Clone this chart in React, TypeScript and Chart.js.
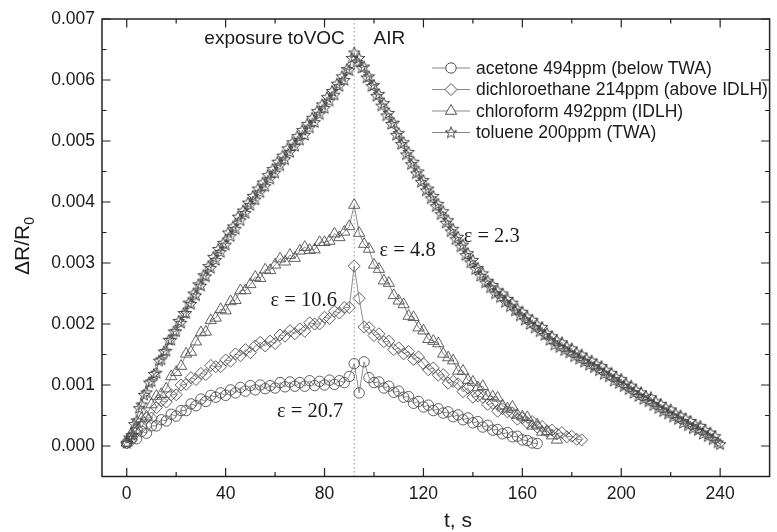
import React, { useEffect, useRef } from "react";
import { Chart, registerables } from "chart.js";

Chart.register(...registerables);

// time axes (s)
const TIME_1S = [
  0,1,2,3,4,5,6,7,8,9,10,11,12,13,14,15,16,17,18,19,20,21,22,23,24,25,26,27,28,29,
  30,31,32,33,34,35,36,37,38,39,40,41,42,43,44,45,46,47,48,49,50,51,52,53,54,55,56,57,58,59,
  60,61,62,63,64,65,66,67,68,69,70,71,72,73,74,75,76,77,78,79,80,81,82,83,84,85,86,87,88,89,
  90,91,92,93,94,95,96,97,98,99,100,101,102,103,104,105,106,107,108,109,110,111,112,113,114,115,116,117,118,119,
  120,121,122,123,124,125,126,127,128,129,130,131,132,133,134,135,136,137,138,139,140,141,142,143,144,145,146,147,148,149,
  150,151,152,153,154,155,156,157,158,159,160,161,162,163,164,165,166,167,168,169,170,171,172,173,174,175,176,177,178,179,
  180,181,182,183,184,185,186,187,188,189,190,191,192,193,194,195,196,197,198,199,200,201,202,203,204,205,206,207,208,209,
  210,211,212,213,214,215,216,217,218,219,220,221,222,223,224,225,226,227,228,229,230,231,232,233,234,235,236,237,238,239,
  240
];
const TIME_2S = [
  0,2,4,6,8,10,12,14,16,18,20,22,24,26,28,30,32,34,36,38,40,42,44,46,48,50,52,54,56,58,
  60,62,64,66,68,70,72,74,76,78,80,82,84,86,88,90,92,94,96,98,100,102,104,106,108,110,112,114,116,118,
  120,122,124,126,128,130,132,134,136,138,140,142,144,146,148,150,152,154,156,158,160,162,164,166,168,170,172,174,176,178,
  180,182,184
];

// ΔR/R0 values in units of 0.001
const ACETONE = [ // sampled on TIME_2S
  0.05,0.13,0.12,0.24,0.21,0.33,0.33,0.43,0.41,0.52,
  0.49,0.58,0.58,0.69,0.66,0.77,0.73,0.83,0.8,0.87,
  0.83,0.92,0.87,0.96,0.9,0.99,0.92,1.0,0.94,0.99,
  0.95,1.04,0.97,1.05,0.98,1.04,0.98,1.07,0.99,1.06,
  1.0,1.08,1.01,1.07,1.04,1.14,1.35,0.87,1.38,1.12,
  1.04,1.05,0.95,0.98,0.88,0.9,0.8,0.81,0.7,0.73,
  0.64,0.67,0.58,0.61,0.54,0.56,0.48,0.51,0.43,0.46,
  0.38,0.4,0.31,0.34,0.26,0.27,0.2,0.22,0.15,0.16,
  0.1,0.09,0.05,0.04
];
const DICHLOROETHANE = [ // sampled on TIME_2S
  0.05,0.1,0.28,0.31,0.46,0.46,0.63,0.74,0.72,0.84,
  0.84,1.0,1.01,1.12,1.09,1.19,1.17,1.32,1.3,1.3,
  1.41,1.39,1.51,1.48,1.58,1.53,1.64,1.7,1.64,1.72,
  1.68,1.82,1.8,1.89,1.84,1.92,1.88,2.02,2.0,2.0,
  2.11,2.09,2.21,2.18,2.27,2.27,2.95,2.42,1.95,1.94,
  1.81,1.84,1.71,1.72,1.58,1.61,1.51,1.55,1.42,1.46,
  1.35,1.25,1.28,1.16,1.17,1.03,1.06,1.02,0.89,0.95,
  0.8,0.82,0.8,0.68,0.7,0.57,0.61,0.56,0.54,0.44,
  0.46,0.38,0.4,0.31,0.32,0.24,0.26,0.2,0.22,0.15,
  0.16,0.11,0.1
];
const CHLOROFORM = [ // sampled on TIME_2S
  0.05,0.21,0.25,0.45,0.48,0.68,0.82,0.85,0.94,1.14,
  1.21,1.31,1.51,1.54,1.71,1.86,1.87,2.06,2.1,2.24,
  2.22,2.37,2.39,2.55,2.55,2.65,2.77,2.75,2.89,2.88,
  2.97,3.07,3.02,3.13,3.08,3.2,3.26,3.21,3.22,3.34,
  3.34,3.36,3.48,3.42,3.51,3.6,3.95,3.49,3.31,3.23,
  2.97,2.9,2.71,2.67,2.47,2.38,2.32,2.13,2.11,1.94,
  1.89,1.75,1.72,1.68,1.51,1.45,1.4,1.23,1.23,1.08,
  1.05,0.96,0.98,0.82,0.81,0.79,0.66,0.61,0.64,0.51,
  0.48,0.47,0.33,0.35,0.23,0.24,0.17,0.1
];
const TOLUENE = [ // sampled on TIME_1S
  0.05,0.14,0.18,0.36,0.42,0.62,0.68,0.84,0.88,1.04,
  1.06,1.18,1.2,1.4,1.42,1.55,1.56,1.74,1.74,1.88,
  1.88,2.05,2.02,2.18,2.18,2.35,2.33,2.5,2.47,2.65,
  2.63,2.8,2.78,2.95,2.92,3.1,3.05,3.23,3.18,3.33,
  3.3,3.5,3.44,3.6,3.56,3.76,3.7,3.86,3.82,3.99,
  3.95,4.1,4.04,4.22,4.16,4.32,4.26,4.44,4.38,4.54,
  4.48,4.66,4.6,4.76,4.7,4.88,4.82,4.98,4.92,5.08,
  5.02,5.18,5.1,5.28,5.22,5.38,5.31,5.49,5.44,5.6,
  5.54,5.72,5.66,5.82,5.76,5.94,5.9,6.06,6.0,6.18,
  6.16,6.36,6.45,6.3,6.36,6.2,6.22,6.04,6.06,5.9,
  5.92,5.74,5.77,5.58,5.62,5.42,5.46,5.28,5.3,5.1,
  5.13,4.95,4.98,4.78,4.82,4.62,4.66,4.47,4.5,4.33,
  4.36,4.19,4.22,4.06,4.1,3.93,3.97,3.8,3.85,3.66,
  3.7,3.52,3.56,3.39,3.43,3.27,3.3,3.13,3.16,3.01,
  3.05,2.9,2.92,2.79,2.83,2.68,2.71,2.6,2.64,2.5,
  2.55,2.44,2.5,2.36,2.41,2.29,2.35,2.22,2.25,2.14,
  2.2,2.07,2.12,2.0,2.07,1.94,1.99,1.88,1.95,1.82,
  1.85,1.74,1.8,1.66,1.73,1.62,1.7,1.57,1.63,1.53,
  1.6,1.47,1.53,1.43,1.5,1.38,1.43,1.33,1.4,1.29,
  1.34,1.24,1.31,1.18,1.24,1.14,1.2,1.07,1.13,1.03,
  1.1,0.98,1.02,0.93,0.99,0.87,0.92,0.82,0.88,0.77,
  0.82,0.73,0.8,0.67,0.73,0.62,0.69,0.57,0.63,0.53,
  0.6,0.48,0.53,0.44,0.5,0.38,0.45,0.34,0.41,0.29,
  0.35,0.26,0.33,0.2,0.26,0.16,0.22,0.11,0.16,0.06,
  0.03
];

const SERIES_LABELS = [
  "acetone 494ppm (below TWA)",
  "dichloroethane 214ppm (above IDLH)",
  "chloroform 492ppm (IDLH)",
  "toluene 200ppm (TWA)",
];
const X_TICKS = [0, 40, 80, 120, 160, 200, 240];
const Y_TICKS = [0, 1, 2, 3, 4, 5, 6, 7]; // ×0.001
const SWITCH_TIME = 92;
const EPS_LABELS = [
  { text: "ε = 10.6", t: 71.6, v: 2.39 },
  { text: "ε = 20.7", t: 74.2, v: 0.56 },
  { text: "ε = 4.8", t: 113.6, v: 3.21 },
  { text: "ε = 2.3", t: 147.6, v: 3.43 },
];
const PHASE_LABELS = [
  { text: "exposure toVOC", t: 88.2, v: 6.67, align: "right" },
  { text: "AIR", t: 99.8, v: 6.67, align: "left" },
];

const SANS = '"Liberation Sans", Arial, Helvetica, sans-serif';
const SERIF = '"Liberation Serif", "Times New Roman", serif';
const MARK = "#505050";

function makeStar(): HTMLCanvasElement {
  const c = document.createElement("canvas");
  c.width = 14;
  c.height = 14;
  const g = c.getContext("2d")!;
  g.beginPath();
  for (let i = 0; i < 10; i++) {
    const r = i % 2 === 0 ? 6 : 2.6;
    const a = -Math.PI / 2 + (i * Math.PI) / 5;
    const x = 7 + r * Math.cos(a);
    const y = 7.4 + r * Math.sin(a);
    if (i === 0) g.moveTo(x, y);
    else g.lineTo(x, y);
  }
  g.closePath();
  g.strokeStyle = "#444";
  g.lineWidth = 1;
  g.stroke();
  return c;
}

function drawMarker(ctx: CanvasRenderingContext2D, kind: string, x: number, y: number, star: HTMLCanvasElement) {
  ctx.save();
  ctx.strokeStyle = MARK;
  ctx.lineWidth = 1;
  ctx.fillStyle = "#fff";
  ctx.beginPath();
  if (kind === "circle") {
    ctx.arc(x, y, 5.2, 0, Math.PI * 2);
    ctx.fill();
    ctx.stroke();
  } else if (kind === "rectRot") {
    ctx.moveTo(x, y - 6);
    ctx.lineTo(x + 6, y);
    ctx.lineTo(x, y + 6);
    ctx.lineTo(x - 6, y);
    ctx.closePath();
    ctx.fill();
    ctx.stroke();
  } else if (kind === "triangle") {
    const r = 6.5;
    ctx.moveTo(x, y - r);
    ctx.lineTo(x + r * Math.sin((2 * Math.PI) / 3), y - r * Math.cos((2 * Math.PI) / 3));
    ctx.lineTo(x + r * Math.sin((4 * Math.PI) / 3), y - r * Math.cos((4 * Math.PI) / 3));
    ctx.closePath();
    ctx.fill();
    ctx.stroke();
  } else {
    ctx.drawImage(star, x - 7, y - 7);
  }
  ctx.restore();
}

export default function App() {
  const ref = useRef<HTMLCanvasElement | null>(null);

  useEffect(() => {
    const canvas = ref.current;
    if (!canvas) return;
    const star = makeStar();
    const series = [ACETONE, DICHLOROETHANE, CHLOROFORM, TOLUENE];
    const times = [TIME_2S, TIME_2S, TIME_2S, TIME_1S];
    const styles: any[] = ["circle", "rectRot", "triangle", star];
    const radii = [5.2, 6, 6.5, 6];
    const kinds = ["circle", "rectRot", "triangle", "star"];

    const datasets = series.map((vals, i) => ({
      label: SERIES_LABELS[i],
      data: vals.map((v, k) => ({ x: times[i][k], y: v })),
      borderColor: "#808080",
      borderWidth: 0.9,
      pointStyle: styles[i],
      pointRadius: radii[i],
      pointBorderColor: MARK,
      pointBorderWidth: 0.9,
      pointBackgroundColor: "rgba(0,0,0,0)",
      fill: false,
      tension: 0,
      order: 4 - i,
    }));

    const overlay = {
      id: "overlay",
      beforeDatasetsDraw(chart: any) {
        const { ctx, chartArea, scales } = chart;
        const x = scales.x.getPixelForValue(SWITCH_TIME);
        ctx.save();
        ctx.strokeStyle = "#9a9a9a";
        ctx.lineWidth = 1;
        ctx.setLineDash([1.5, 2.5]);
        ctx.beginPath();
        ctx.moveTo(x, chartArea.top);
        ctx.lineTo(x, chartArea.bottom);
        ctx.stroke();
        ctx.restore();
      },
      afterDraw(chart: any) {
        const { ctx, chartArea: a, scales } = chart;
        const xs = scales.x;
        const ys = scales.y;
        ctx.save();
        // frame
        ctx.strokeStyle = "#222";
        ctx.lineWidth = 1.5;
        ctx.strokeRect(a.left, a.top, a.right - a.left, a.bottom - a.top);
        // ticks (inward)
        ctx.lineWidth = 1.2;
        ctx.beginPath();
        const maj = 8.5;
        const min = 4.5;
        X_TICKS.forEach((t) => {
          const px = xs.getPixelForValue(t);
          ctx.moveTo(px, a.bottom);
          ctx.lineTo(px, a.bottom - maj);
          ctx.moveTo(px, a.top);
          ctx.lineTo(px, a.top + maj);
          const mt = t + (X_TICKS[1] - X_TICKS[0]) / 2;
          if (mt < xs.max) {
            const mx = xs.getPixelForValue(mt);
            ctx.moveTo(mx, a.bottom);
            ctx.lineTo(mx, a.bottom - min);
            ctx.moveTo(mx, a.top);
            ctx.lineTo(mx, a.top + min);
          }
        });
        Y_TICKS.forEach((v) => {
          const py = ys.getPixelForValue(v);
          ctx.moveTo(a.left, py);
          ctx.lineTo(a.left + maj, py);
          ctx.moveTo(a.right, py);
          ctx.lineTo(a.right - maj, py);
          const mv = v + 0.5;
          if (mv < ys.max) {
            const my = ys.getPixelForValue(mv);
            ctx.moveTo(a.left, my);
            ctx.lineTo(a.left + min, my);
            ctx.moveTo(a.right, my);
            ctx.lineTo(a.right - min, my);
          }
        });
        ctx.stroke();

        // epsilon annotations
        ctx.fillStyle = "#1a1a1a";
        ctx.font = `20.5px ${SERIF}`;
        ctx.textAlign = "center";
        ctx.textBaseline = "middle";
        EPS_LABELS.forEach((l) => {
          ctx.fillText(l.text, xs.getPixelForValue(l.t), ys.getPixelForValue(l.v));
        });
        // phase labels
        ctx.font = `19px ${SANS}`;
        PHASE_LABELS.forEach((l) => {
          ctx.textAlign = l.align as CanvasTextAlign;
          ctx.fillText(l.text, xs.getPixelForValue(l.t), ys.getPixelForValue(l.v));
        });

        // legend
        const rows = [68, 89.5, 111, 132.5];
        ctx.font = `17.5px ${SANS}`;
        ctx.textAlign = "left";
        SERIES_LABELS.forEach((lab, i) => {
          const y = rows[i];
          ctx.strokeStyle = "#888";
          ctx.lineWidth = 1.2;
          ctx.beginPath();
          ctx.moveTo(432, y);
          ctx.lineTo(470, y);
          ctx.stroke();
          drawMarker(ctx, kinds[i], 451, y, star);
          ctx.fillStyle = "#1a1a1a";
          ctx.fillText(lab, 476, y + 1);
        });

        // axis titles
        ctx.font = `21px ${SANS}`;
        ctx.textAlign = "center";
        ctx.fillText("t, s", 458, 521);

        ctx.translate(22, 246);
        ctx.rotate(-Math.PI / 2);
        ctx.font = `21px ${SANS}`;
        const main = "ΔR/R";
        const wMain = ctx.measureText(main).width;
        ctx.font = `14px ${SANS}`;
        const wSub = ctx.measureText("0").width;
        const start = -(wMain + wSub) / 2;
        ctx.textAlign = "left";
        ctx.textBaseline = "alphabetic";
        ctx.font = `21px ${SANS}`;
        ctx.fillText(main, start, 7);
        ctx.font = `14px ${SANS}`;
        ctx.fillText("0", start + wMain, 12);
        ctx.restore();
      },
    };

    const chart = new Chart(canvas, {
      type: "line",
      data: { datasets },
      options: {
        responsive: false,
        animation: false,
        devicePixelRatio: 1,
        layout: { padding: { top: 19, left: 0, right: 0, bottom: 0 } },
        plugins: { legend: { display: false }, tooltip: { enabled: false } },
        scales: {
          x: {
            type: "linear",
            min: -10,
            max: 260,
            grid: { display: false, drawTicks: false },
            border: { display: false },
            ticks: {
              font: { family: SANS, size: 17.5 },
              color: "#1a1a1a",
              padding: 7.5,
              autoSkip: false,
              maxRotation: 0,
            },
            afterBuildTicks: (s: any) => {
              s.ticks = X_TICKS.map((v) => ({ value: v }));
            },
            afterFit: (s: any) => {
              s.height = 55.5;
            },
          },
          y: {
            type: "linear",
            min: -0.5,
            max: 7,
            grid: { display: false, drawTicks: false },
            border: { display: false },
            ticks: {
              font: { family: SANS, size: 17.5 },
              color: "#1a1a1a",
              padding: 7,
              callback: (v: any) => (Number(v) / 1000).toFixed(3),
            },
            afterBuildTicks: (s: any) => {
              s.ticks = Y_TICKS.map((v) => ({ value: v }));
            },
            afterFit: (s: any) => {
              s.width = 102;
            },
          },
        },
      } as any,
      plugins: [overlay],
    });
    return () => chart.destroy();
  }, []);

  return (
    <div style={{ position: "fixed", left: 0, top: 0, width: 777, height: 532, background: "#fff" }}>
      <canvas ref={ref} width={777} height={532} style={{ display: "block", width: 777, height: 532 }} />
    </div>
  );
}
